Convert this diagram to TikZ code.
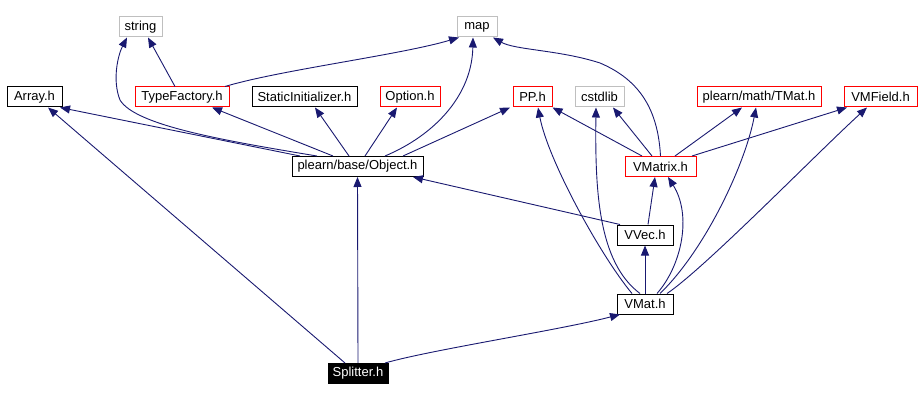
\documentclass[tikz,border=0pt]{standalone}
\usepackage{fontspec}
\setmainfont{Liberation Sans}
\usetikzlibrary{arrows.meta}
\definecolor{edgeblue}{HTML}{191970}
\definecolor{lightgray}{HTML}{BFBFBF}
\tikzset{
  box/.style={draw=black, line width=1pt, minimum height=20pt, inner sep=0pt, font=\fontsize{13}{15}\selectfont, fill=white},
  redbox/.style={box, draw=red},
  graybox/.style={box, draw=lightgray},
  rootbox/.style={box, fill=black, text=white},
  edge/.style={draw=edgeblue, line width=0.9pt, -{Triangle[length=10pt,width=8pt]}}
}
\begin{document}
\begin{tikzpicture}[x=1pt,y=-1pt]
\useasboundingbox (0,0) rectangle (921,401);
% nodes
\node[graybox, minimum width=43pt] (string) at (140.5,27) {string};
\node[graybox, minimum width=40pt] (map) at (477,27) {map};
\node[box, minimum width=55pt] (array) at (34.5,97) {Array.h};
\node[redbox, minimum width=94pt] (tf) at (182,97) {TypeFactory.h};
\node[box, minimum width=105pt] (si) at (304.5,97) {StaticInitializer.h};
\node[redbox, minimum width=60pt] (opt) at (410,97) {Option.h};
\node[redbox, minimum width=39pt] (pp) at (532.5,97) {PP.h};
\node[graybox, minimum width=49pt] (cstd) at (599.5,97) {cstdlib};
\node[redbox, minimum width=124pt] (tmat) at (759,97) {plearn/math/TMat.h};
\node[redbox, minimum width=73pt] (vmf) at (880.5,97) {VMField.h};
\node[box, minimum width=131pt] (obj) at (357.5,166.5) {plearn/base/Object.h};
\node[redbox, minimum width=71pt] (vmx) at (660.5,166.5) {VMatrix.h};
\node[box, minimum width=56pt] (vvec) at (645,235) {VVec.h};
\node[box, minimum width=56pt] (vmat) at (645,304) {VMat.h};
\node[rootbox, minimum width=60pt] (spl) at (358,373.5) {Splitter.h};
% edges
\draw[edge] ([xshift=-7pt]tf.north) -- ([xshift=7.5pt]string.south);
\draw[edge] ([xshift=-40.5pt]obj.north) .. controls (220,140) and (135,125) .. (120,100) .. controls (112,80) and (118,55) .. ([xshift=-13.5pt]string.south);
\draw[edge] ([xshift=43pt]tf.north) .. controls (280,70) and (400,55) .. ([xshift=-18pt]map.south);
\draw[edge] ([xshift=27.5pt]obj.north) .. controls (435,135) and (472,95) .. ([xshift=-4pt]map.south);
\draw[edge] (vmx.north) .. controls (658,110) and (640,80) .. (600,63) .. controls (560,50) and (515,50) .. ([xshift=16pt]map.south);
\draw[edge] ([xshift=-57.5pt]obj.north) -- ([xshift=25.5pt]array.south);
\draw[edge] ([xshift=-13pt]spl.north) -- ([xshift=13.5pt]array.south);
\draw[edge] ([xshift=-24.5pt]obj.north) -- ([xshift=30pt]tf.south);
\draw[edge] ([xshift=-8.5pt]obj.north) -- ([xshift=10.5pt]si.south);
\draw[edge] ([xshift=7.5pt]obj.north) -- ([xshift=-13pt]opt.south);
\draw[edge] ([xshift=45.5pt]obj.north) -- ([xshift=-22.5pt]pp.south);
\draw[edge] ([xshift=-18.5pt]vmx.north) -- (pp.south east);
\draw[edge] ([xshift=-8.5pt]vmx.north) -- ([xshift=13.5pt]cstd.south);
\draw[edge] ([xshift=14.5pt]vmx.north) -- ([xshift=-17pt]tmat.south);
\draw[edge] ([xshift=31.5pt]vmx.north) -- ([xshift=-33.5pt]vmf.south);
\draw[edge] ([xshift=-25pt]vvec.north) -- ([xshift=55.5pt]obj.south);
\draw[edge] ([xshift=3pt]vvec.north) -- ([xshift=-5.5pt]vmx.south);
\draw[edge] ([xshift=12pt]vmat.north) .. controls (682,265) and (692,215) .. ([xshift=7.5pt]vmx.south);
\draw[edge] (vmat.north) -- (vvec.south);
\draw[edge] ([xshift=-13pt]vmat.north) .. controls (600,255) and (548,160) .. ([xshift=5.5pt]pp.south);
\draw[edge] ([xshift=-5pt]vmat.north) .. controls (598,262) and (595,190) .. ([xshift=-3.5pt]cstd.south);
\draw[edge] ([xshift=15pt]vmat.north) .. controls (705,250) and (745,165) .. ([xshift=-3pt]tmat.south);
\draw[edge] ([xshift=22pt]vmat.north) .. controls (705,268) and (815,155) .. ([xshift=-13.5pt]vmf.south);
\draw[edge] ([xshift=27pt]spl.north) .. controls (430,350) and (560,330) .. ([xshift=-25pt]vmat.south);
\draw[edge] (spl.north) -- (obj.south);
\end{tikzpicture}
\end{document}
